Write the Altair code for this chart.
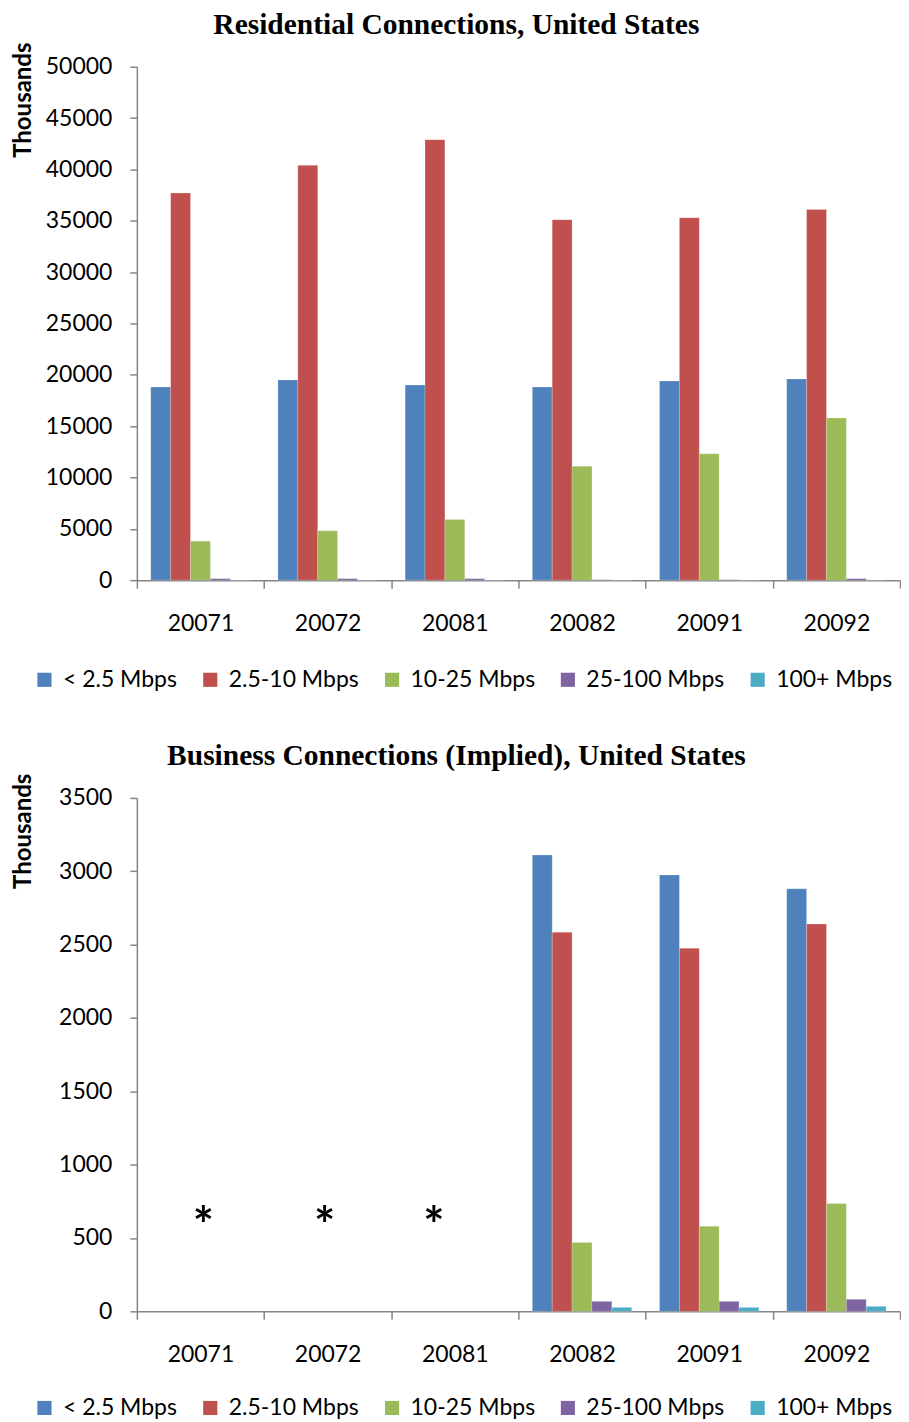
import altair as alt
import pandas as pd

periods = ["20071", "20072", "20081", "20082", "20091", "20092"]
tiers = ["< 2.5 Mbps", "2.5-10 Mbps", "10-25 Mbps", "25-100 Mbps", "100+ Mbps"]
colors = ["#4F81BD", "#C0504D", "#9BBB59", "#8064A2", "#4BACC6"]

# Residential connections (thousands)
res_lt2_5 = [18800, 19500, 19000, 18800, 19400, 19600]
res_2_5_10 = [37700, 40400, 42900, 35100, 35300, 36100]
res_10_25 = [3800, 4800, 5900, 11100, 12300, 15800]
res_25_100 = [150, 150, 150, 40, 40, 150]
res_100p = [20, 20, 20, 20, 20, 20]

# Business connections (implied, thousands); first three periods not available
bus_lt2_5 = [None, None, None, 3110, 2975, 2880]
bus_2_5_10 = [None, None, None, 2585, 2475, 2640]
bus_10_25 = [None, None, None, 470, 580, 735]
bus_25_100 = [None, None, None, 68, 68, 82]
bus_100p = [None, None, None, 27, 27, 34]

star_periods = ["20071", "20072", "20081"]
star_level = 650

res_ticks = list(range(0, 50001, 5000))
bus_ticks = list(range(0, 3501, 500))


def long_frame(series):
    rows = []
    for tier, vals in zip(tiers, series):
        for p, v in zip(periods, vals):
            if v is not None:
                rows.append({"period": p, "tier": tier, "value": v})
    return pd.DataFrame(rows)


res_df = long_frame([res_lt2_5, res_2_5_10, res_10_25, res_25_100, res_100p])
bus_df = long_frame([bus_lt2_5, bus_2_5_10, bus_10_25, bus_25_100, bus_100p])
star_df = pd.DataFrame({"period": star_periods, "label": ["*"] * len(star_periods)})

FONT = "Lato"
W, H = 764, 514
XSCALE = alt.Scale(domain=periods, paddingInner=0, paddingOuter=0)


def x_enc():
    return alt.X(
        "period:N",
        scale=XSCALE,
        axis=alt.Axis(
            title=None, labelAngle=0, tickBand="extent", tickSize=8,
            labelPadding=24, labelFont=FONT, labelFontSize=23, labelColor="#000000",
            domainColor="#868686", tickColor="#868686", domainWidth=1.5, tickWidth=1.5,
            grid=False,
        ),
    )


def y_enc(maxv, ticks):
    return alt.Y(
        "value:Q",
        scale=alt.Scale(domain=[0, maxv], nice=False),
        axis=alt.Axis(
            title="Thousands", values=ticks, format="d", grid=False,
            tickSize=7, labelPadding=18, labelFont=FONT, labelFontSize=23,
            labelColor="#000000", domainColor="#868686", tickColor="#868686",
            domainWidth=1.5, tickWidth=1.5,
            titleFont=FONT, titleFontSize=24, titleFontWeight="bold", titleColor="#000000",
            titleAngle=270, titleX=-113, titleY=33, titleAlign="center", titleBaseline="middle",
        ),
    )


def color_enc(legend_y):
    return alt.Color(
        "tier:N",
        scale=alt.Scale(domain=tiers, range=colors),
        legend=alt.Legend(
            title=None, orient="none", legendX=-104, legendY=legend_y,
            direction="horizontal", columns=5,
            symbolType="square", symbolSize=200, symbolStrokeWidth=0,
            labelFont=FONT, labelFontSize=23, labelColor="#000000",
            labelOffset=7, columnPadding=21,
        ),
    )


def title_params(text):
    return alt.TitleParams(
        text, font="Liberation Serif", fontSize=29.5, fontWeight="bold",
        color="#000000", anchor="middle", frame="bounds", offset=-21,
        baseline="alphabetic",
    )


def bars(df, maxv, ticks, legend_y):
    return alt.Chart(df).mark_bar(
        stroke="#ffffff", strokeOpacity=0.35, strokeWidth=0.6
    ).encode(
        x=x_enc(),
        xOffset=alt.XOffset(
            "tier:N", sort=tiers,
            scale=alt.Scale(domain=tiers, paddingInner=0, paddingOuter=0.7),
        ),
        y=y_enc(maxv, ticks),
        color=color_enc(legend_y),
    )


top = bars(res_df, 50000, res_ticks, H + 88).properties(
    width=W, height=H, title=title_params("Residential Connections, United States")
)

bottom_bars = bars(bus_df, 3500, bus_ticks, H + 85)

star_base = alt.Chart(star_df).encode(
    x=alt.X("period:N", scale=XSCALE),
    y=alt.datum(star_level),
    text="label:N",
)
star_style = dict(font=FONT, fontSize=50, fontWeight="bold", color="#000000",
                  baseline="middle", dy=12)
stars_a = star_base.transform_filter(alt.datum.period == "20071").mark_text(**star_style, dx=3)
stars_b = star_base.transform_filter(alt.datum.period == "20072").mark_text(**star_style, dx=-3)
stars_c = star_base.transform_filter(alt.datum.period == "20081").mark_text(**star_style, dx=-21)

bottom = alt.layer(bottom_bars, stars_a, stars_b, stars_c).properties(
    width=W, height=H,
    title=title_params("Business Connections (Implied), United States"),
)

chart = alt.vconcat(top, bottom, spacing=218, bounds="flush").resolve_scale(
    color="independent"
).properties(
    padding={"left": 4, "top": 0, "right": 0, "bottom": 0}
).configure_view(stroke=None)

chart.save("out.html", embed_options={"renderer": "svg", "actions": False})
